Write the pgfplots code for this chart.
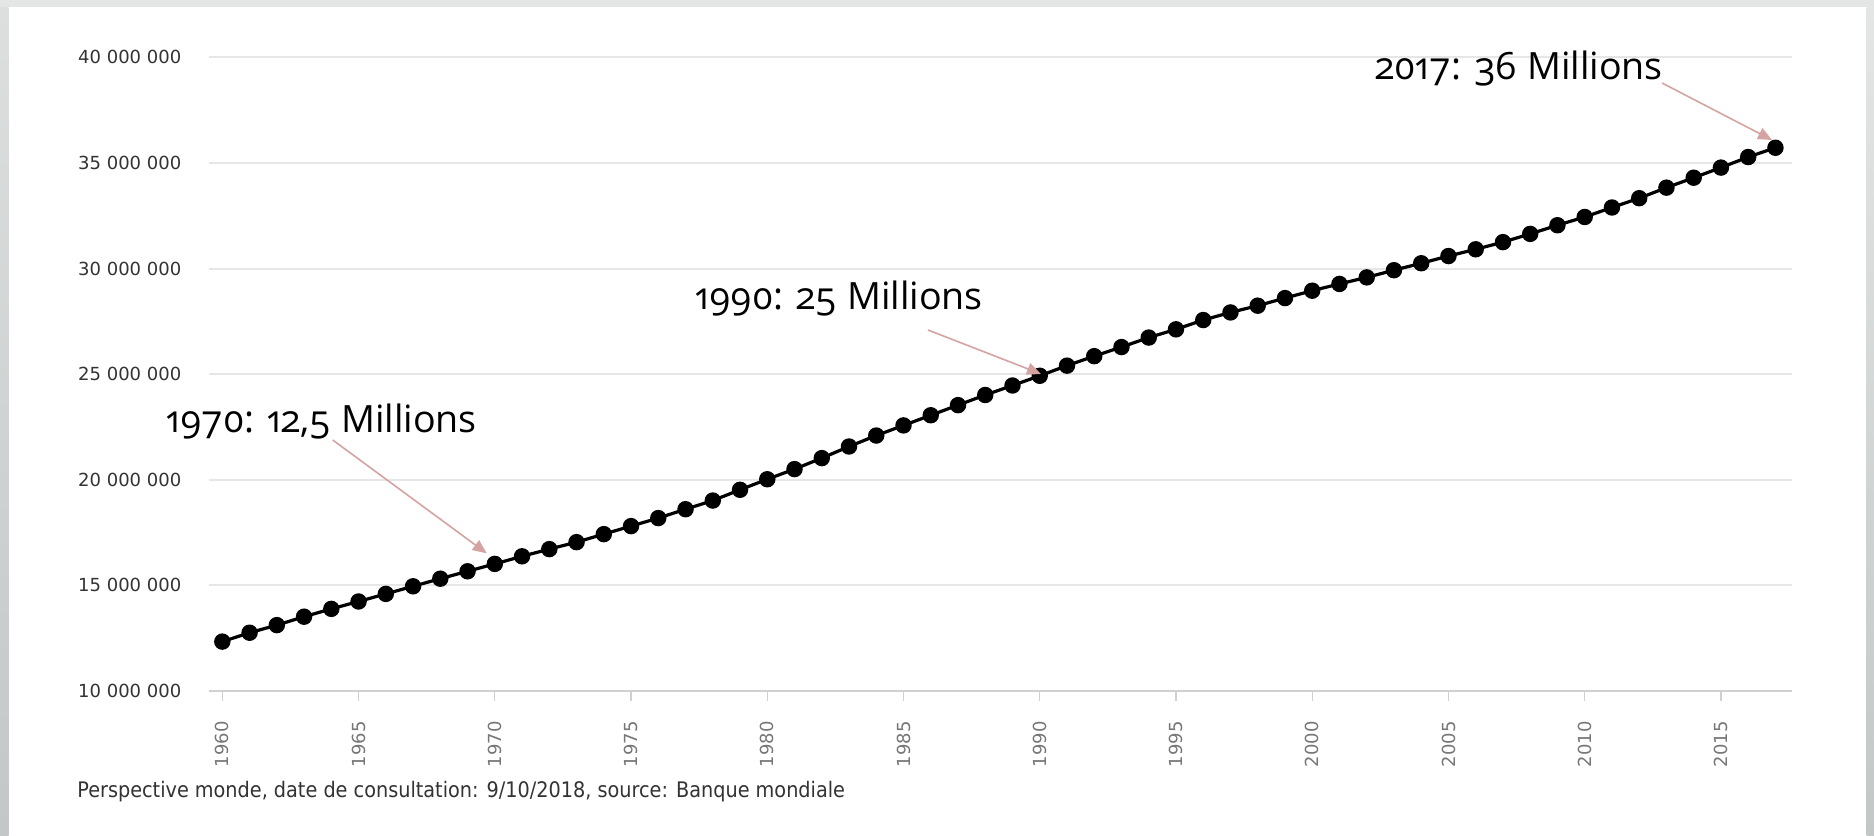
\documentclass[border=0pt]{standalone}
\usepackage{fontspec}
\usepackage{pgfplots}
\usepackage{pgfplotstable}
\pgfplotsset{compat=1.18}
\usetikzlibrary{arrows.meta}
\newfontfamily\annfont{Open Sans}[Numbers=OldStyle]
\newfontfamily\tickfont{DejaVu Sans}
\newfontfamily\footfont{DejaVu Sans Condensed}
\definecolor{gridc}{HTML}{E6E6E6}
\definecolor{axc}{HTML}{D0D0D0}
\definecolor{arrc}{HTML}{D6A3A3}
\definecolor{frametop}{HTML}{E4E5E5}
\definecolor{frameside}{HTML}{DDDFDF}
\definecolor{framebot}{HTML}{C3C7C7}
\definecolor{ylab}{HTML}{333333}
\definecolor{xlab}{HTML}{777777}

\pgfplotstableread{
year pop
1960 12330000
1961 12750000
1962 13110000
1963 13510000
1964 13880000
1965 14230000
1966 14590000
1967 14950000
1968 15310000
1969 15660000
1970 16010000
1971 16370000
1972 16710000
1973 17040000
1974 17420000
1975 17800000
1976 18180000
1977 18600000
1978 19010000
1979 19520000
1980 20020000
1981 20500000
1982 21020000
1983 21570000
1984 22090000
1985 22570000
1986 23050000
1987 23530000
1988 24010000
1989 24460000
1990 24920000
1991 25400000
1992 25850000
1993 26280000
1994 26730000
1995 27120000
1996 27560000
1997 27920000
1998 28240000
1999 28600000
2000 28950000
2001 29270000
2002 29580000
2003 29920000
2004 30250000
2005 30590000
2006 30910000
2007 31250000
2008 31640000
2009 32050000
2010 32440000
2011 32890000
2012 33330000
2013 33830000
2014 34300000
2015 34780000
2016 35280000
2017 35720000
}\poptable

\begin{document}
\begin{tikzpicture}[x=0.5bp,y=0.5bp]
\fill[white] (0,0) rectangle (1874,835);
\fill[frametop] (0,827.5) rectangle (1874,835);
\shade[top color=frameside, bottom color=framebot] (0,0) rectangle (8.5,827.5);
\shade[top color=frametop, bottom color=framebot] (1866.7,0) rectangle (1874,827.5);
\begin{axis}[
  at={(104.35bp,72.1bp)}, anchor=south west,
  scale only axis, width=791.5bp, height=316.7bp,
  xmin=1959.5, xmax=2017.6, ymin=10000000, ymax=40000000,
  scaled y ticks=false,
  axis lines*=left,
  y axis line style={draw=none},
  x axis line style={draw=axc, line width=1bp},
  xtick={1960,1965,...,2015},
  xticklabels={1960,1965,1970,1975,1980,1985,1990,1995,2000,2005,2010,2015},
  ytick={10000000,15000000,20000000,25000000,30000000,35000000,40000000},
  yticklabels={10 000 000,15 000 000,20 000 000,25 000 000,30 000 000,35 000 000,40 000 000},
  ymajorgrids,
  grid style={draw=gridc, line width=1bp},
  ytick style={draw=none},
  xtick style={draw=axc, line width=0.6bp},
  tick align=outside,
  major tick length=5bp,
  xticklabel shift=10bp,
  xticklabel style={rotate=90, anchor=east, inner sep=0pt, font=\tickfont\fontsize{9bp}{10bp}\selectfont, text=xlab},
  yticklabel style={anchor=east, inner sep=0pt, font=\tickfont\fontsize{9bp}{10bp}\selectfont, text=ylab, xshift=-8.5bp},
  clip=false,
]
\addplot[black, line width=1.6bp, mark=*, mark size=3.3bp, mark options={fill=black}] table[x=year,y=pop]{\poptable};
\end{axis}
% annotations
\node[anchor=base west, inner sep=0pt, font=\annfont\fontsize{18.8bp}{22bp}\selectfont] at (166,402) {1970: 12,5 Millions};
\node[anchor=base west, inner sep=0pt, font=\annfont\fontsize{18.8bp}{22bp}\selectfont] at (695,525) {1990: 25 Millions};
\node[anchor=base west, inner sep=0pt, font=\annfont\fontsize{18.8bp}{22bp}\selectfont] at (1375,755) {2017: 36 Millions};
\draw[arrc, line width=0.8bp, -{Triangle[length=7bp,width=6bp]}] (332.7,395) -- (486.7,281.7);
\draw[arrc, line width=0.8bp, -{Triangle[length=7bp,width=6bp]}] (928,505) -- (1041,461);
\draw[arrc, line width=0.8bp, -{Triangle[length=7bp,width=6bp]}] (1662,752) -- (1772,695);
% footer
\node[anchor=base west, inner sep=0pt, text=ylab, font=\footfont\fontsize{10.7bp}{12bp}\selectfont] at (77,38) {Perspective monde, date de consultation: 9/10/2018, source: Banque mondiale};
\pgfresetboundingbox
\path[use as bounding box] (0,0) rectangle (1874,835);
\end{tikzpicture}
\end{document}
